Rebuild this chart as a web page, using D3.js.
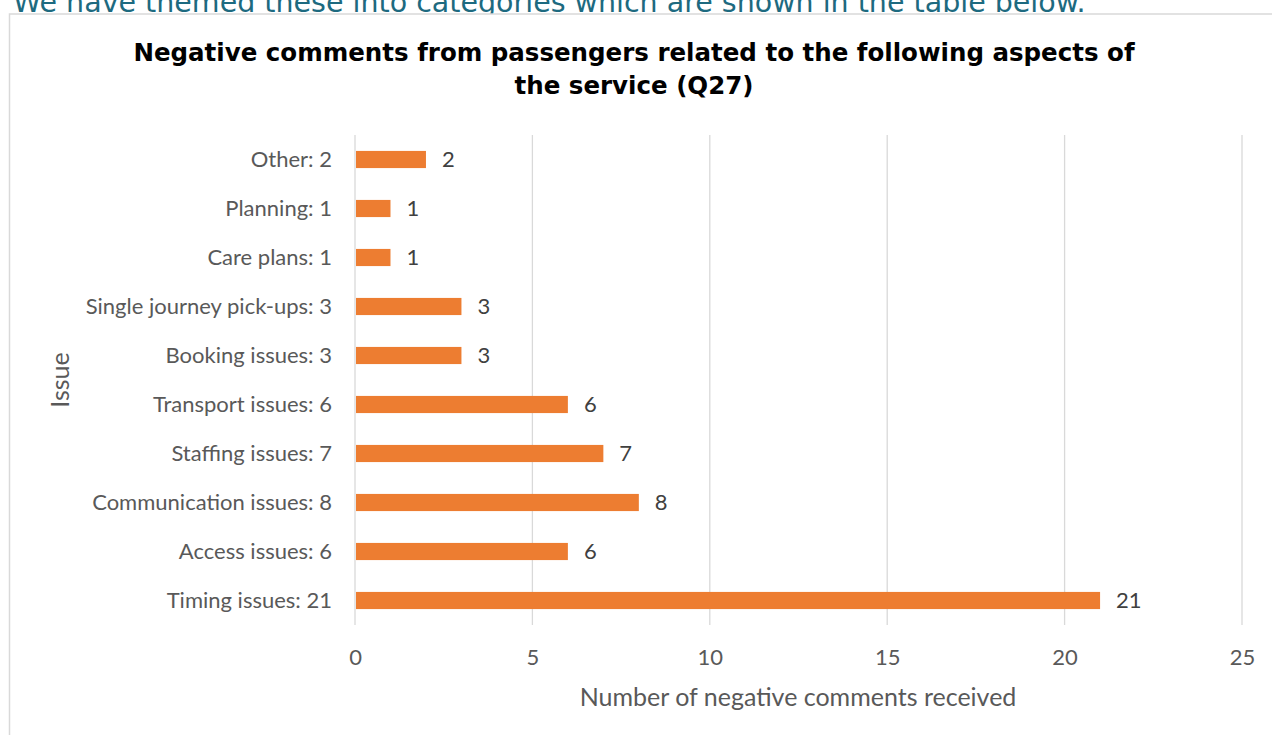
<!DOCTYPE html>
<html>
<head>
<meta charset="utf-8">
<script src="https://cdn.jsdelivr.net/npm/d3@7"></script>
<style>
  body { margin: 0; background: #fff; overflow: hidden; }
  svg { display: block; }
</style>
</head>
<body>
<svg id="chart" width="1272" height="735"></svg>
<script>
"use strict";

// categories top to bottom, as in the picture
const categories = [
  'Other: 2', 'Planning: 1', 'Care plans: 1', 'Single journey pick-ups: 3',
  'Booking issues: 3', 'Transport issues: 6', 'Staffing issues: 7',
  'Communication issues: 8', 'Access issues: 6', 'Timing issues: 21'
];
const values = [2, 1, 1, 3, 3, 6, 7, 8, 6, 21];
const xTicks = [0, 5, 10, 15, 20, 25];

const titleLines = [
  'Negative comments from passengers related to the following aspects of',
  'the service (Q27)'
];

const svg = d3.select('#chart');
const labelFont = 'Lato, "Open Sans", sans-serif';

// page text above the chart (cut off at the top)
svg.append('text')
  .attr('x', 13).attr('y', 12)
  .attr('font-family', 'DejaVu Sans, Verdana, sans-serif')
  .attr('font-size', 28.5)
  .attr('fill', '#1d6a80')
  .text('We have themed these into categories which are shown in the table below.');

// chart frame
svg.append('rect')
  .attr('x', 9.5).attr('y', 14)
  .attr('width', 1300).attr('height', 800)
  .attr('fill', '#fff')
  .attr('stroke', '#d9d9d9')
  .attr('stroke-width', 1.5);

// title
svg.append('g').selectAll('text').data(titleLines).join('text')
  .attr('x', 634).attr('y', (d, i) => 61 + i * 33)
  .attr('text-anchor', 'middle')
  .attr('font-family', 'DejaVu Sans, Tahoma, sans-serif')
  .attr('font-weight', 'bold')
  .attr('font-size', 24.5)
  .attr('fill', '#000')
  .text(d => d);

const margin = { left: 355, top: 135 };
const width = 1242 - margin.left;
const height = 625 - margin.top;

const g = svg.append('g').attr('transform', `translate(${margin.left},${margin.top})`);

const x = d3.scaleLinear().domain([0, 25]).range([0, width]);
const y = d3.scaleBand().domain(categories).range([0, height]).paddingInner(0.65).paddingOuter(0.325);

// gridlines
g.append('g').selectAll('line').data(xTicks).join('line')
  .attr('x1', d => x(d)).attr('x2', d => x(d))
  .attr('y1', 0).attr('y2', height)
  .attr('stroke', '#d9d9d9')
  .attr('stroke-width', 1.3);

// bars
g.append('g').selectAll('rect').data(values).join('rect')
  .attr('x', x(0) + 1)
  .attr('y', (d, i) => y(categories[i]))
  .attr('width', d => x(d) - x(0) - 1)
  .attr('height', y.bandwidth())
  .attr('fill', '#ed7d31');

// value labels
g.append('g').selectAll('text').data(values).join('text')
  .attr('x', d => x(d) + 16)
  .attr('y', (d, i) => y(categories[i]) + y.bandwidth() / 2)
  .attr('dy', '0.36em')
  .attr('font-family', labelFont)
  .attr('font-size', 22)
  .attr('fill', '#404040')
  .text(d => d);

// y axis (category labels)
const yAxis = g.append('g').call(d3.axisLeft(y).tickSize(0).tickPadding(23));
yAxis.select('.domain').remove();
yAxis.selectAll('text')
  .attr('dy', '0.36em')
  .attr('font-family', labelFont)
  .attr('font-size', 22)
  .attr('fill', '#595959');

// x axis
const xAxis = g.append('g')
  .attr('transform', `translate(0,${height})`)
  .call(d3.axisBottom(x).tickValues(xTicks).tickSize(0).tickPadding(24));
xAxis.select('.domain').remove();
xAxis.selectAll('text')
  .attr('font-family', labelFont)
  .attr('font-size', 22)
  .attr('fill', '#595959');

// axis titles
svg.append('text')
  .attr('x', 798).attr('y', 706)
  .attr('text-anchor', 'middle')
  .attr('font-family', labelFont)
  .attr('font-size', 25)
  .attr('fill', '#595959')
  .text('Number of negative comments received');

svg.append('text')
  .attr('transform', 'translate(69,380) rotate(-90)')
  .attr('text-anchor', 'middle')
  .attr('font-family', labelFont)
  .attr('font-size', 25)
  .attr('fill', '#595959')
  .text('Issue');
</script>
</body>
</html>
